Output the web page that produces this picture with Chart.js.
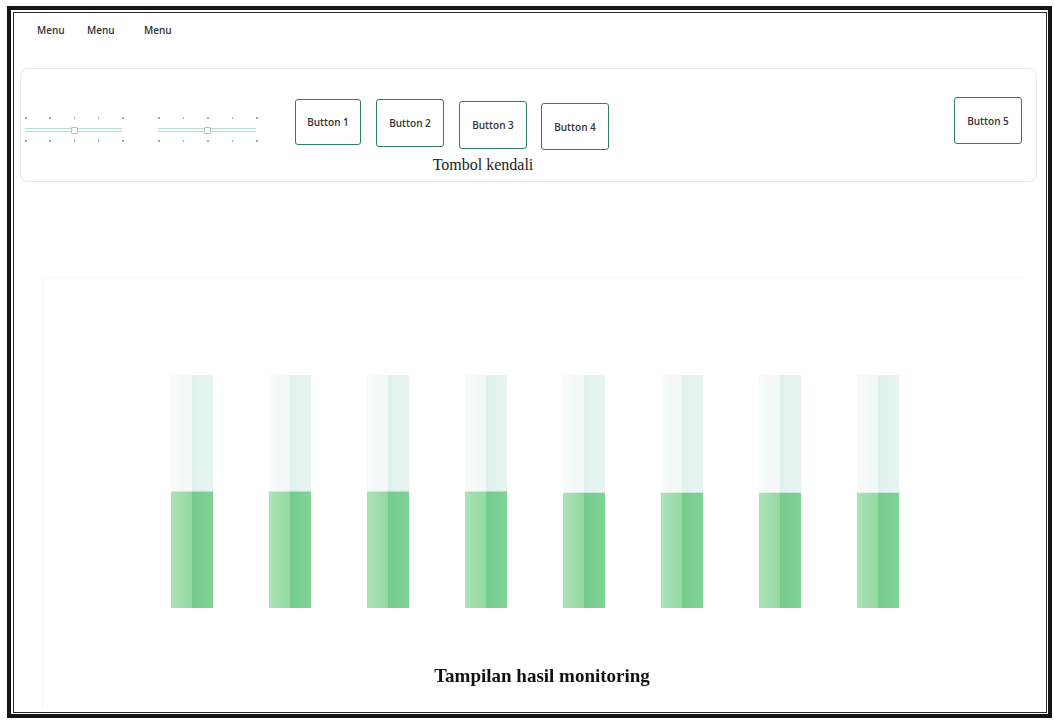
<!DOCTYPE html>
<html>
<head>
<meta charset="utf-8">
<script src="https://cdn.jsdelivr.net/npm/chart.js@4/dist/chart.umd.min.js"></script>
<style>
  body { margin: 0; width: 1055px; height: 720px; background: #fff; position: relative; overflow: hidden; font-family: "Open Sans", "Liberation Sans", sans-serif; }
  .frame-out { position: absolute; left: 7px; top: 6px; width: 1037px; height: 704px; border: 4px solid #151515; }
  .frame-in { position: absolute; left: 13px; top: 12px; border: 1.5px solid #2a2a2a; box-sizing: border-box; width: 1034px; height: 701px; }
  .menu { position: absolute; top: 23px; font-size: 10px; font-weight: 600; color: #333; }
  .panel { position: absolute; left: 20px; top: 68px; width: 1015px; height: 112px; border: 1px solid #e2ebe8; border-radius: 8px; }
  .btn { position: absolute; border: 1.5px solid #2f7d66; border-radius: 3px; box-sizing: border-box; display: flex; align-items: center; justify-content: center; font-size: 10px; font-weight: 600; color: #333; }
  .slider { position: absolute; height: 30px; }
  .slider .line { position: absolute; left: 0; right: 0; top: 11px; height: 2px; border-top: 1px solid #b5ded3; border-bottom: 1px solid #b5ded3; }
  .slider .thumb { position: absolute; top: 10px; width: 5px; height: 5px; border: 1px solid #9ccfc1; border-radius: 1px; background: #fff; }
  .slider .dot { position: absolute; width: 1.5px; height: 2px; background: #9aa; }
  .caption { position: absolute; left: 383px; width: 200px; top: 156px; text-align: center; font-family: "Liberation Serif", serif; font-size: 16px; color: #222; }
  .chartbox { position: absolute; left: 42px; top: 277px; width: 980px; height: 430px; border-left: 1px solid #f2f2f2; border-top: 1px solid #f2f2f2; box-sizing: border-box; }
  .title { position: absolute; left: 392px; width: 300px; top: 665px; text-align: center; font-family: "Liberation Serif", serif; font-size: 19px; font-weight: bold; color: #111; }
</style>
</head>
<body>
<div class="frame-out"></div>
<div class="frame-in"></div>

<div class="menu" style="left:37px">Menu</div>
<div class="menu" style="left:87px">Menu</div>
<div class="menu" style="left:144px">Menu</div>

<div class="panel"></div>
<div class="slider" id="s1" style="left:25px; top:117px; width:97px"></div>
<div class="slider" id="s2" style="left:158px; top:117px; width:98px"></div>

<div class="btn" style="left:295px; top:99px; width:66px; height:46px">Button 1</div>
<div class="btn" style="left:376px; top:99px; width:68px; height:48px">Button 2</div>
<div class="btn" style="left:459px; top:101px; width:68px; height:48px">Button 3</div>
<div class="btn" style="left:541px; top:103px; width:68px; height:47px">Button 4</div>
<div class="btn" style="left:954px; top:97px; width:68px; height:47px">Button 5</div>
<div class="caption">Tombol kendali</div>

<div class="chartbox"><canvas id="myChart" width="980" height="430"></canvas></div>
<div class="title">Tampilan hasil monitoring</div>

<script>
// tank levels (percent)
const tanks = ['1', '2', '3', '4', '5', '6', '7', '8'];
const levels = [50, 50, 50, 50, 49.5, 49.5, 49.5, 49.5];
const capacity = [100, 100, 100, 100, 100, 100, 100, 100];
const sliderTicks = [0, 25, 50, 75, 100];
const sliderValues = [50, 50];

// sliders
['s1', 's2'].forEach(function (id, i) {
  let el = document.getElementById(id);
  el.innerHTML = '<div class="line"></div>';
  sliderTicks.forEach(function (t) {
    el.innerHTML += `<div class="dot" style="left:${t}%; top:0px"></div><div class="dot" style="left:${t}%; top:23px"></div>`;
  });
  el.innerHTML += `<div class="thumb" style="left:calc(${sliderValues[i]}% - 3px)"></div>`;
});

function tankColor(light, dark) {
  return function (context) {
    let chart = context.chart;
    let xScale = chart.scales.x;
    if (!xScale || !chart.chartArea) return dark[0];
    let step = (xScale.right - xScale.left) / tanks.length;
    let w = step * 0.43;
    let cx = xScale.getPixelForValue(context.dataIndex);
    let g = chart.ctx.createLinearGradient(cx - w / 2, 0, cx + w / 2, 0);
    g.addColorStop(0, light[0]);
    g.addColorStop(0.49, light[1]);
    g.addColorStop(0.51, dark[0]);
    g.addColorStop(1, dark[1]);
    return g;
  };
}

new Chart(document.getElementById('myChart'), {
  type: 'bar',
  data: {
    labels: tanks,
    datasets: [
      {
        label: 'Level',
        data: levels,
        grouped: false,
        order: 1,
        barPercentage: 0.43,
        categoryPercentage: 1,
        backgroundColor: tankColor(['#ade2b7', '#93d9a2'], ['#74cc8c', '#80d297']),
      },
      {
        label: 'Kapasitas',
        data: capacity,
        grouped: false,
        order: 2,
        barPercentage: 0.43,
        categoryPercentage: 1,
        backgroundColor: tankColor(['#f8fbfa', '#f1f8f6'], ['#e0f1ec', '#e7f4f1']),
      },
    ],
  },
  options: {
    responsive: false,
    animation: false,
    layout: { padding: { left: 100, right: 96, top: 97, bottom: 100 } },
    scales: {
      x: { display: false },
      y: { display: false, min: 0, max: 100 },
    },
    plugins: {
      legend: { display: false },
      tooltip: { enabled: false },
    },
  },
});
</script>
</body>
</html>
